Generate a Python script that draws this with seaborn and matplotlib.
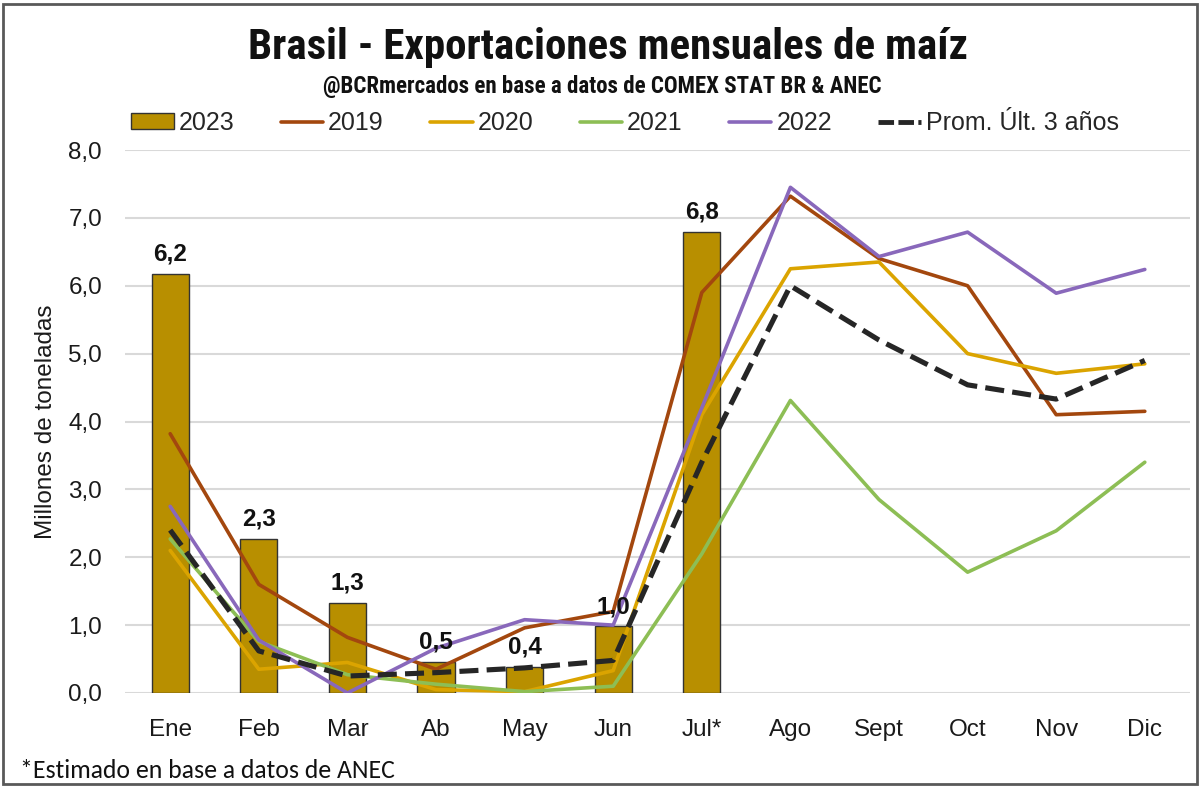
import numpy as np
import pandas as pd
import matplotlib
matplotlib.use("Agg")
import matplotlib.pyplot as plt
import matplotlib.patches as mpatches
from matplotlib.lines import Line2D
import seaborn as sns

months = ["Ene", "Feb", "Mar", "Ab", "May", "Jun", "Jul*", "Ago", "Sept", "Oct", "Nov", "Dic"]
y2023 = [6.17, 2.27, 1.33, 0.46, 0.38, 0.98, 6.79]
y2019 = [3.82, 1.6, 0.82, 0.35, 0.96, 1.2, 5.9, 7.32, 6.4, 6.0, 4.1, 4.15]
y2020 = [2.1, 0.35, 0.45, 0.05, 0.02, 0.33, 4.1, 6.25, 6.35, 5.0, 4.71, 4.85]
y2021 = [2.27, 0.76, 0.27, 0.13, 0.02, 0.1, 2.05, 4.31, 2.85, 1.78, 2.39, 3.4]
y2022 = [2.75, 0.78, 0.0, 0.66, 1.08, 1.0, 4.2, 7.45, 6.43, 6.79, 5.89, 6.24]
prom = [2.4, 0.62, 0.25, 0.3, 0.37, 0.48, 3.4, 6.0, 5.2, 4.54, 4.33, 4.9]
yticks = [0, 1, 2, 3, 4, 5, 6, 7, 8]

sns.set_theme(style="white")
plt.rcParams['font.family'] = ['Liberation Sans', 'DejaVu Sans']
narrow = ['Roboto Condensed', 'PT Sans Narrow', 'Asap Condensed', 'DejaVu Sans']

fig = plt.figure(figsize=(12.02, 7.88), dpi=100)
ax = fig.add_axes([125/1202, 1-693/788, (1190-125)/1202, (693-150)/788])

bar_color = "#B88F00"
df_bar = pd.DataFrame({"mes": months[:7], "val": y2023})
sns.barplot(data=df_bar, x="mes", y="val", order=months, color=bar_color,
            width=0.42, edgecolor="#333333", linewidth=1.0, saturation=1, ax=ax, zorder=2)

series = [(y2019, "#A3470E", "2019"), (y2020, "#DBA400", "2020"),
          (y2021, "#8DBE55", "2021"), (y2022, "#8968BB", "2022")]
for vals, col, lab in series:
    sns.lineplot(x=months, y=vals, color=col, linewidth=2.6, ax=ax, zorder=3, sort=False)
sns.lineplot(x=months, y=prom, color="#262626", linewidth=3.7, ax=ax, zorder=4, sort=False,
             linestyle=(0, (3.7, 1.6)))

labels = [f"{v:.1f}".replace(".", ",") for v in y2023]
ax.bar_label(ax.containers[0], labels=labels, padding=6, fontsize=17.5, fontweight="bold", color="#111111")

ax.set_xlim(-0.51, 11.51)
ax.set_ylim(0, 8)
ax.set_yticks(yticks)
ax.set_yticklabels([f"{t:.1f}".replace(".", ",") for t in yticks])
ax.grid(axis="y", color="#D9D9D9", linewidth=1.5, zorder=0)
ax.set_axisbelow(True)
for s in ax.spines.values():
    s.set_visible(False)
ax.tick_params(axis="both", length=0, labelsize=17.5, colors="#1a1a1a")
ax.tick_params(axis="y", pad=16.5)
ax.tick_params(axis="x", pad=18.5)
ax.set_xlabel("")
ax.set_ylabel("Millones de toneladas", fontsize=17.5, color="#1a1a1a")
ax.yaxis.set_label_coords(-0.064, 0.5)

fig.text(0.506, 1-47/788, "Brasil - Exportaciones mensuales de maíz", ha="center", va="center",
         fontsize=31, fontweight="bold", family=narrow, color="#111111")
fig.text(0.501, 1-86/788, "@BCRmercados en base a datos de COMEX STAT BR & ANEC", ha="center", va="center",
         fontsize=16.5, fontweight="bold", family=narrow, color="#111111")
fig.text(20/1202, 1-770/788, "*Estimado en base a datos de ANEC", ha="left", va="center",
         fontsize=18.5, family=['Carlito', 'Lato', 'DejaVu Sans'], color="#111111")

handles = [mpatches.Patch(facecolor=bar_color, edgecolor="#333333", linewidth=1.0)]
handles += [Line2D([0], [0], color=c, linewidth=2.6) for _, c, _ in series]
handles += [Line2D([0], [0], color="#262626", linewidth=3.5, linestyle=(0, (3.2, 0.9)))]
leg_labels = ["2023", "2019", "2020", "2021", "2022", "Prom. Últ. 3 años"]
fig.legend(handles, leg_labels, loc="center", bbox_to_anchor=(0.52, 1-123/788), ncol=6,
           frameon=False, fontsize=18, handlelength=1.7, columnspacing=1.85, handletextpad=0.2,
           handleheight=0.6)

fig.patches.append(mpatches.Rectangle((3/1202, 4/788), 1194/1202, 780/788, transform=fig.transFigure,
                                      fill=False, edgecolor="#595959", linewidth=2))

fig.savefig("out.png", dpi=100)
